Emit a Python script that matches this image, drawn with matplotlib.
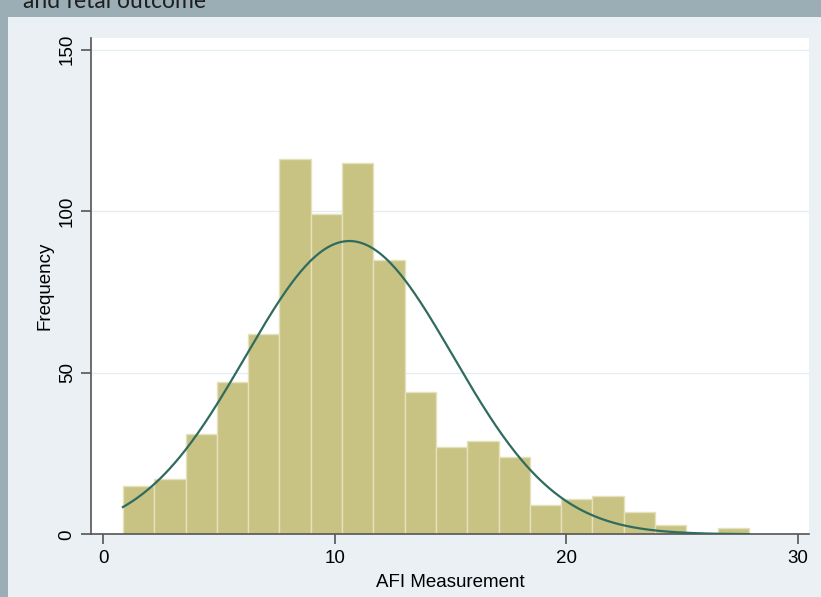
import numpy as np
import matplotlib
matplotlib.use("Agg")
import matplotlib.pyplot as plt
from matplotlib.patches import Rectangle

# data
bin_min = 0.84
bin_max = 27.9
counts = [15, 17, 31, 47, 62, 116, 99, 115, 85, 44,
          27, 29, 24, 9, 11, 12, 7, 3, 0, 2]
afi_mean = 10.63
afi_sd = 4.49

x_ticks = [0, 10, 20, 30]
y_ticks = [0, 50, 100, 150]

outer_col = "#9CAEB5"
panel_col = "#EAF0F3"
bar_col = "#C8C283"
bar_edge = "#E4E1BC"
curve_col = "#2F6B5F"
axis_col = "#555555"

plt.rcParams["font.family"] = ["Liberation Sans", "DejaVu Sans"]

fig = plt.figure(figsize=(8.21, 5.97), dpi=100)
fig.patch.set_facecolor(outer_col)

# light panel behind the graph
fig.patches.append(Rectangle((8 / 821, 0), 1 - 8 / 821, 1 - 17 / 597,
                             transform=fig.transFigure, facecolor=panel_col,
                             edgecolor="none", zorder=-5))

# cut-off slide title
fig.text(23 / 821, 1 - 8.5 / 597, "and fetal outcome", fontsize=16.5,
         color="#1E1E1E", va="baseline", ha="left",
         family=["Lato", "DejaVu Sans"])

ax = fig.add_axes([91 / 821, 1 - 534.3 / 597, (809.3 - 91) / 821, (534.3 - 38.3) / 597])
ax.set_zorder(2)
ax.set_facecolor("white")

edges = np.linspace(bin_min, bin_max, len(counts) + 1)
width = edges[1] - edges[0]
ax.bar(edges[:-1], counts, width=width, align="edge", color=bar_col,
       edgecolor=bar_edge, linewidth=1, zorder=2)

# normal density scaled to the histogram
xs = np.linspace(bin_min, bin_max, 400)
n_total = sum(counts)
ys = n_total * width / (afi_sd * np.sqrt(2 * np.pi)) * np.exp(-0.5 * ((xs - afi_mean) / afi_sd) ** 2)
ax.plot(xs, ys, color=curve_col, lw=1.6, zorder=3)

ax.set_xlim(-0.54, 30.51)
ax.set_ylim(0, 153.5)
ax.set_xticks(x_ticks)
ax.set_yticks(y_ticks)
ax.set_yticklabels([str(v) for v in y_ticks], rotation=90, va="center")

ax.grid(axis="y", color="#E6EDF0", lw=1, zorder=1)
ax.set_axisbelow(True)

for s in ["top", "right"]:
    ax.spines[s].set_visible(False)
for s in ["left", "bottom"]:
    ax.spines[s].set_color(axis_col)
    ax.spines[s].set_linewidth(1.2)

ax.tick_params(axis="both", length=7, width=1.2, color=axis_col,
               labelsize=13.5, pad=4, labelcolor="black")

ax.set_xlabel("AFI Measurement", fontsize=13.5, labelpad=5)
ax.set_ylabel("Frequency", fontsize=13.5, labelpad=4)

fig.savefig("out.png", dpi=100, facecolor=fig.get_facecolor())
